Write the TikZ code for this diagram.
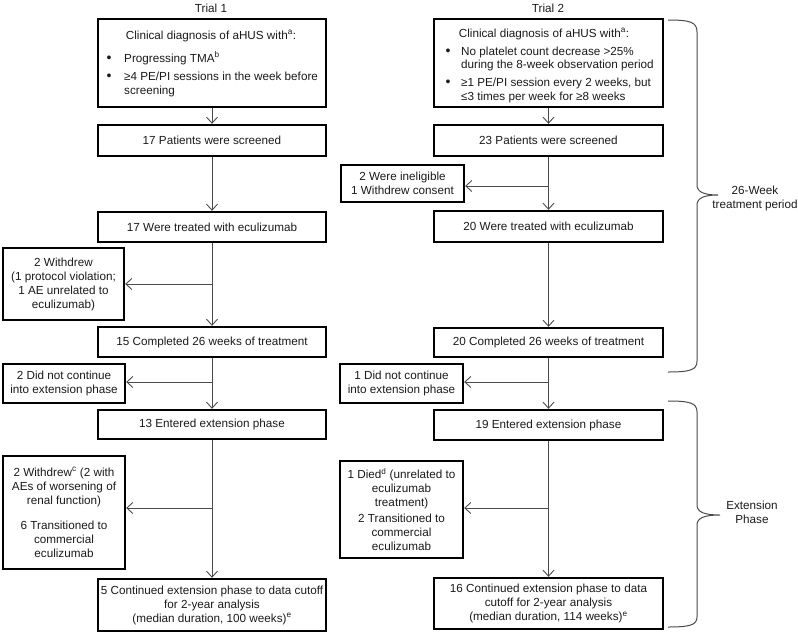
\documentclass[tikz,border=0pt]{standalone}
\usepackage{fontspec}
\setmainfont{Liberation Sans}
\usetikzlibrary{arrows.meta}
\definecolor{arrgray}{HTML}{4A4A4A}
\definecolor{txt}{HTML}{1A1A1A}
\tikzset{
  box/.style={draw=black, line width=2.4pt, inner sep=0pt, align=center, text=txt,
    font=\fontsize{11.7}{14}\selectfont},
  plain/.style={inner sep=0pt, text=txt, font=\fontsize{11.7}{14}\selectfont},
  bul/.style={inner sep=0pt, text=txt, font=\fontsize{14}{14}\selectfont},
  arr/.style={draw=arrgray, line width=0.9pt, -{Straight Barb[length=6pt,width=11pt]}},
  brc/.style={draw=arrgray, line width=1pt}
}
\begin{document}
\begin{tikzpicture}[x=1pt,y=-1pt]
\useasboundingbox (0,0) rectangle (798,633);
% column titles
\node[plain] (tt1) at (211,8) {Trial 1};
\node[plain] (tt2) at (548,8) {Trial 2};
% Trial 1 main boxes
\node[box, minimum width=228pt, minimum height=88pt] (t1a) at (212,63) {};
\node[box, minimum width=228pt, minimum height=31pt] (t1b) at (212,140.5) {17 Patients were screened};
\node[box, minimum width=228pt, minimum height=30pt] (t1c) at (212,227) {17 Were treated with eculizumab};
\node[box, minimum width=228pt, minimum height=30pt] (t1d) at (212,342) {15 Completed 26 weeks of treatment};
\node[box, minimum width=228pt, minimum height=29pt] (t1e) at (212,424.5) {13 Entered extension phase};
\node[box, minimum width=228pt, minimum height=52pt] (t1f) at (212,605) {5 Continued extension phase to data cutoff\\for 2-year analysis\\(median duration, 100 weeks)\textsuperscript{e}};
% Trial 1 top box text
\node[plain, anchor=base] (h1) at (211,39) {Clinical diagnosis of aHUS with\textsuperscript{a}:};
\node[bul, anchor=base] (b11) at (109,62) {•};
\node[plain, anchor=base west] (l11) at (124,62) {Progressing TMA\textsuperscript{b}};
\node[bul, anchor=base] (b12) at (109,80) {•};
\node[plain, anchor=base west] (l12) at (124,80) {≥4 PE/PI sessions in the week before};
\node[plain, anchor=base west] (l13) at (124,94) {screening};
% Trial 2 main boxes
\node[box, minimum width=229pt, minimum height=88pt] (t2a) at (548.5,63) {};
\node[box, minimum width=229pt, minimum height=31pt] (t2b) at (548.5,140.5) {23 Patients were screened};
\node[box, minimum width=229pt, minimum height=31pt] (t2c) at (548.5,226.5) {20 Were treated with eculizumab};
\node[box, minimum width=229pt, minimum height=29pt] (t2d) at (548.5,342.5) {20 Completed 26 weeks of treatment};
\node[box, minimum width=229pt, minimum height=30pt] (t2e) at (548.5,425) {19 Entered extension phase};
\node[box, minimum width=229pt, minimum height=51pt] (t2f) at (548.5,603.5) {16 Continued extension phase to data\\cutoff for 2-year analysis\\(median duration, 114 weeks)\textsuperscript{e}};
% Trial 2 top box text
\node[plain, anchor=base] (h2) at (544,37) {Clinical diagnosis of aHUS with\textsuperscript{a}:};
\node[bul, anchor=base] (b21) at (448,55) {•};
\node[plain, anchor=base west] (l21) at (461,55) {No platelet count decrease >25\%};
\node[plain, anchor=base west] (l22) at (461,68) {during the 8-week observation period};
\node[bul, anchor=base] (b22) at (448,86) {•};
\node[plain, anchor=base west] (l23) at (461,86) {≥1 PE/PI session every 2 weeks, but};
\node[plain, anchor=base west] (l24) at (461,100) {≤3 times per week for ≥8 weeks};
% side boxes trial 1
\node[box, minimum width=121pt, minimum height=72pt] (s1) at (63.5,284) {2 Withdrew\\(1 protocol violation;\\1 AE unrelated to\\eculizumab)};
\node[box, minimum width=122pt, minimum height=39pt] (s2) at (64,383.5) {2 Did not continue\\into extension phase};
\node[box, minimum width=122pt, minimum height=113pt] (s3) at (64,512.5) {2 Withdrew\textsuperscript{c} (2 with\\AEs of worsening of\\renal function)\\[11pt]6 Transitioned to\\commercial\\eculizumab};
% side boxes trial 2
\node[box, minimum width=123pt, minimum height=37pt] (r1) at (402.5,183.5) {2 Were ineligible\\1 Withdrew consent};
\node[box, minimum width=123pt, minimum height=39pt] (r2) at (401.5,383.5) {1 Did not continue\\into extension phase};
\node[box, minimum width=123pt, minimum height=97pt] (r3) at (401.5,509.5) {1 Died\textsuperscript{d} (unrelated to\\eculizumab\\treatment)\\[2pt]2 Transitioned to\\commercial\\eculizumab};
% branch coordinates
\coordinate (p1) at (212,284);
\coordinate (p2) at (212,382);
\coordinate (p3) at (212,508);
\coordinate (q1) at (548.5,186);
\coordinate (q2) at (548.5,382);
\coordinate (q3) at (548.5,508);
% trial 1 connectors
\draw[arr] (t1a.south) -- (t1b.north);
\draw[arr] (t1b.south) -- (t1c.north);
\draw[arr] (t1c.south) -- (t1d.north);
\draw[arr] (p1) -- (p1 -| s1.east);
\draw[arr] (t1d.south) -- (t1e.north);
\draw[arr] (p2) -- (p2 -| s2.east);
\draw[arr] (t1e.south) -- (t1f.north);
\draw[arr] (p3) -- (p3 -| s3.east);
% trial 2 connectors
\draw[arr] (t2a.south) -- (t2b.north);
\draw[arr] (t2b.south) -- (t2c.north);
\draw[arr] (q1) -- (q1 -| r1.east);
\draw[arr] (t2c.south) -- (t2d.north);
\draw[arr] (t2d.south) -- (t2e.north);
\draw[arr] (q2) -- (q2 -| r2.east);
\draw[arr] (t2e.south) -- (t2f.north);
\draw[arr] (q3) -- (q3 -| r3.east);
% braces
\draw[brc] (668,20) .. controls (690,20) and (697,22) .. (697,32) -- (697,185)
  .. controls (697,192) and (704,195) .. (718,195)
  .. controls (704,195) and (697,198) .. (697,205) -- (697,361)
  .. controls (697,370) and (690,372) .. (668,372);
\draw[brc] (668,401) .. controls (690,401) and (697,403) .. (697,412) -- (697,505)
  .. controls (697,512) and (704,515) .. (720,515)
  .. controls (704,515) and (697,518) .. (697,525) -- (697,617)
  .. controls (697,625) and (690,627) .. (668,627);
\node[plain, align=center] (lb1) at (755,198) {26-Week\\treatment period};
\node[plain, align=center] (lb2) at (752,512) {Extension\\Phase};
\end{tikzpicture}
\end{document}
